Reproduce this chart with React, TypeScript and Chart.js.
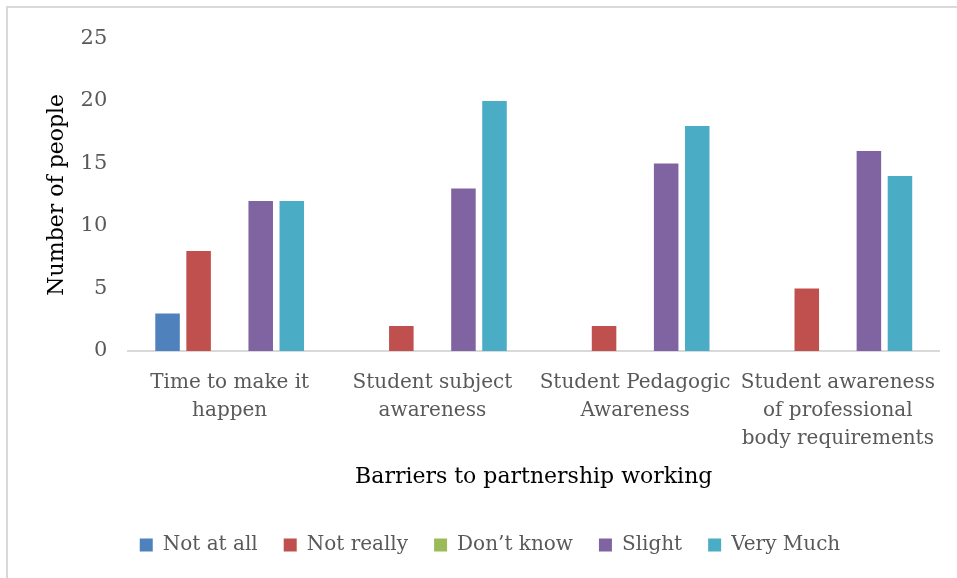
import React, { useEffect, useRef } from "react";
import { Chart, registerables } from "chart.js";

Chart.register(...registerables);

const categories: (string | string[])[] = [
  ["Time to make it", "happen"],
  ["Student subject", "awareness"],
  ["Student Pedagogic", "Awareness"],
  ["Student awareness", "of professional", "body requirements"],
];

const notAtAll = [3, 0, 0, 0];
const notReally = [8, 2, 2, 5];
const dontKnow = [0, 0, 0, 0];
const slight = [12, 13, 15, 16];
const veryMuch = [12, 20, 18, 14];

const seriesNames = ["Not at all", "Not really", "Don\u2019t know", "Slight", "Very Much"];
const seriesColors = ["#4F81BD", "#C0504D", "#9BBB59", "#8064A2", "#4BACC6"];

const yTitle = "Number of people";
const xTitle = "Barriers to partnership working";

const FONT = "'DejaVu Serif', 'Liberation Serif', serif";

export default function App() {
  const ref = useRef<HTMLCanvasElement | null>(null);

  useEffect(() => {
    if (!ref.current) return;
    const values = [notAtAll, notReally, dontKnow, slight, veryMuch];
    const chart = new Chart(ref.current, {
      type: "bar",
      data: {
        labels: categories,
        datasets: values.map((v, i) => ({
          label: seriesNames[i],
          data: v,
          backgroundColor: seriesColors[i],
          borderWidth: 0,
          categoryPercentage: 0.766,
          barPercentage: 0.79,
        })),
      },
      options: {
        animation: false,
        responsive: false,
        maintainAspectRatio: false,
        layout: { padding: { left: 40.8, right: 17.8, top: 38.5, bottom: 13 } },
        plugins: {
          legend: {
            position: "bottom",
            labels: {
              boxWidth: 13,
              boxHeight: 13,
              padding: 26,
              color: "#595959",
              font: { family: FONT, size: 20 },
            },
          },
          tooltip: { enabled: false },
        },
        scales: {
          x: {
            grid: { display: false, drawTicks: false },
            border: { display: true, color: "#d9d9d9", width: 2 },
            ticks: {
              color: "#595959",
              padding: 18,
              maxRotation: 0,
              autoSkip: false,
              font: { family: FONT, size: 20, lineHeight: 1.4 },
            },
            title: {
              display: true,
              text: xTitle,
              color: "#000000",
              font: { family: FONT, size: 22, lineHeight: 1.2 },
              padding: { top: 0, bottom: 18.8 },
            },
            afterFit: (s: any) => {
              s.height = 158;
            },
          },
          y: {
            min: 0,
            max: 25,
            ticks: {
              stepSize: 5,
              color: "#595959",
              padding: 21,
              font: { family: FONT, size: 21 },
            },
            grid: { display: false, drawTicks: false },
            border: { display: false },
            title: {
              display: true,
              text: yTitle,
              color: "#000000",
              font: { family: FONT, size: 22, lineHeight: 1.2 },
              padding: { top: 3, bottom: 0 },
            },
            afterFit: (s: any) => {
              s.width = 87.5;
            },
          },
        },
      },
    });
    return () => chart.destroy();
  }, []);

  return (
    <div
      style={{
        position: "fixed",
        left: 0,
        top: 0,
        width: 957,
        height: 578,
        overflow: "hidden",
        background: "#ffffff",
      }}
    >
      <div
        style={{
          position: "absolute",
          left: 6,
          top: 6,
          width: 960,
          height: 580,
          borderTop: "2px solid #d9d9d9",
          borderLeft: "2px solid #d9d9d9",
        }}
      />
      <canvas
        ref={ref}
        width={957}
        height={578}
        style={{ position: "absolute", left: 0, top: 0, width: 957, height: 578 }}
      />
    </div>
  );
}
